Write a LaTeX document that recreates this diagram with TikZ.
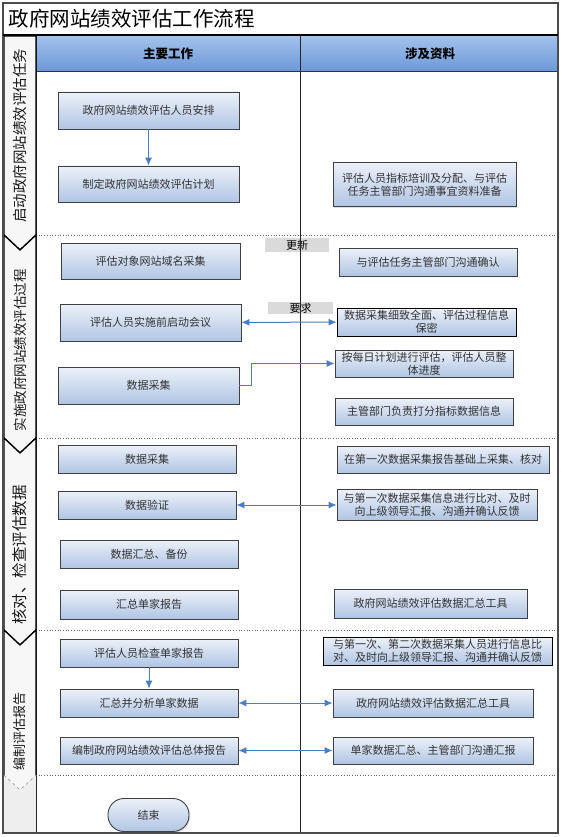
\documentclass[tikz,border=0pt]{standalone}
\usepackage{fontspec}
\newfontfamily\cjk{Noto Sans CJK SC}
\usetikzlibrary{arrows,arrows.meta,shapes,shadows}
\tikzset{>={Latex[length=8pt,width=7pt]}}
\definecolor{boxtop}{RGB}{236,241,249}
\definecolor{boxbot}{RGB}{176,197,228}
\definecolor{headtop}{RGB}{163,194,236}
\definecolor{headbot}{RGB}{108,152,215}
\definecolor{flowblue}{RGB}{74,126,195}
\definecolor{lane}{RGB}{238,238,238}
\definecolor{tagfill}{RGB}{218,218,218}
\tikzset{
	work/.style={draw=black!75, line width=0.9pt, top color=boxtop, bottom color=boxbot, text=black!80,
		font=\cjk\fontsize{11}{13}\selectfont, align=center, inner sep=1pt,
		drop shadow={opacity=0.25, shadow xshift=1.2pt, shadow yshift=-1.2pt}},
	tag/.style={fill=tagfill, font=\cjk\fontsize{11}{11}\selectfont, inner sep=0pt},
	phase/.style={rotate=90, text=black!90},
	flow/.style={draw=flowblue, line width=1pt},
}

\begin{document}
\begin{tikzpicture}[x=1pt, y=-1pt]
	\useasboundingbox (0,0) rectangle (562,837);

	% Frame and lanes
	\fill[white] (3,3) rectangle (558,833);
	\fill[lane] (3,36) rectangle (36,833);
	\shade[top color=headtop, bottom color=headbot] (36,36) rectangle (558,71);
	\draw[black!80, line width=0.8pt] (36,71) -- (558,71);
	\draw[black!85, line width=0.9pt] (36,36) -- (36,833);
	\foreach \y in {235,438,630,775}
		\draw[black!60, dotted, line width=0.7pt] (36,\y) -- (558,\y);

	% Phase chevrons
	\filldraw[fill=black!3, draw=black, line width=1.3pt, line join=miter]
		(4,36) -- (36,36) -- (36,235) -- (20,250) -- (4,235) -- cycle;
	\filldraw[fill=black!3, draw=black, line width=1.3pt, line join=miter]
		(4,235) -- (20,250) -- (36,235) -- (36,438) -- (20,453) -- (4,438) -- cycle;
	\filldraw[fill=black!3, draw=black, line width=1.3pt, line join=miter]
		(4,438) -- (20,453) -- (36,438) -- (36,630) -- (20,645) -- (4,630) -- cycle;
	\fill[black!3] (4,630) -- (20,645) -- (36,630) -- (36,775) -- (20,790) -- (4,775) -- cycle;
	\draw[black, line width=1.3pt, line join=miter] (4,775) -- (4,630) -- (20,645) -- (36,630) -- (36,775);
	\draw[black!45, dashed, line width=0.5pt] (4,775) -- (20,790) -- (36,775);

	\node[phase, font=\cjk\fontsize{14.5}{14.5}\selectfont](start) at (20,135.5) {启动政府网站绩效评估任务};
	\node[phase, font=\cjk\fontsize{13.5}{13.5}\selectfont](carry) at (20,350) {实施政府网站绩效评估过程};
	\node[phase, font=\cjk\fontsize{15.5}{15.5}\selectfont](checking) at (20,555) {核对、检查评估数据};
	\node[phase, font=\cjk\fontsize{13}{13}\selectfont](writing) at (20,731) {编制评估报告};

	% Title and headers
	\node[anchor=west, font=\cjk\fontsize{20.5}{20.5}\selectfont](title) at (5,19) {政府网站绩效评估工作流程};
	\node[font=\cjk\bfseries\fontsize{12.5}{12.5}\selectfont](mainhead) at (168,53.5) {主要工作};
	\node[font=\cjk\bfseries\fontsize{12.5}{12.5}\selectfont](datahead) at (430,53.5) {涉及资料};

	% Main work
	\node[work, minimum width=181pt, minimum height=37pt](arrange) at (148.5,110.5) {政府网站绩效评估人员安排};
	\node[work, minimum width=181pt, minimum height=36pt](plan) at (148.5,184) {制定政府网站绩效评估计划};

	\node[work, minimum width=179pt, minimum height=36pt](domains) at (150.5,261) {评估对象网站域名采集};
	\node[work, minimum width=181pt, minimum height=37pt](kickoff) at (150.5,322.5) {评估人员实施前启动会议};
	\node[work, minimum width=181pt, minimum height=37pt](gather) at (148.5,385.5) {数据采集};

	\node[work, minimum width=178pt, minimum height=28pt](recollect) at (147,459) {数据采集};
	\node[work, minimum width=178pt, minimum height=28pt](verify) at (147,505) {数据验证};
	\node[work, minimum width=178pt, minimum height=28pt](backup) at (149,554) {数据汇总、备份};
	\node[work, minimum width=178pt, minimum height=29pt](single) at (149,604.5) {汇总单家报告};

	\node[work, minimum width=178pt, minimum height=28pt](review) at (149,653) {评估人员检查单家报告};
	\node[work, minimum width=178pt, minimum height=28pt](analyse) at (149,703) {汇总并分析单家数据};
	\node[work, minimum width=178pt, minimum height=27pt](compile) at (149,750.5) {编制政府网站绩效评估总体报告};

	\node[work, rounded corners=16pt, minimum width=81pt, minimum height=33pt](finish) at (148.5,815) {结束};

	% Materials
	\node[work, minimum width=183pt, minimum height=44pt](training) at (424.5,184.5) {评估人员指标培训及分配、与评估\\任务主管部门沟通事宜资料准备};

	\node[work, minimum width=178pt, minimum height=28pt](confirm) at (428,262) {与评估任务主管部门沟通确认};
	\node[work, draw=black, minimum width=179pt, minimum height=28pt](secrecy) at (426.5,322) {数据采集细致全面、评估过程信息\\保密};
	\node[work, minimum width=178pt, minimum height=27pt](daily) at (424,363.5) {按每日计划进行评估，评估人员整\\体进度};
	\node[work, minimum width=178pt, minimum height=27pt](scoring) at (424,411.5) {主管部门负责打分指标数据信息};

	\node[work, minimum width=212pt, minimum height=27pt](firstbase) at (443,459.5) {在第一次数据采集报告基础上采集、核对};
	\node[work, minimum width=200pt, minimum height=31pt](compare) at (437,504.5) {与第一次数据采集信息进行比对、及时\\向上级领导汇报、沟通并确认反馈};
	\node[work, minimum width=193pt, minimum height=29pt](tool) at (430.5,603.5) {政府网站绩效评估数据汇总工具};

	\node[work, draw=black, minimum width=229pt, minimum height=28pt](crosscheck) at (437.5,651) {与第一次、第二次数据采集人员进行信息比\\对、及时向上级领导汇报、沟通并确认反馈};
	\node[work, minimum width=200pt, minimum height=28pt](toolagain) at (433,703) {政府网站绩效评估数据汇总工具};
	\node[work, minimum width=200pt, minimum height=27pt](summary) at (433,750.5) {单家数据汇总、主管部门沟通汇报};

	% Tags
	\node[tag, minimum width=64pt, minimum height=14pt](update) at (297,245) {更新};
	\node[tag, minimum width=65pt, minimum height=12pt](require) at (300.5,308) {要求};

	% Lane divider
	\draw[black!85, line width=0.9pt] (300,36) -- (300,833);

	% Arrows
	\draw[flow, ->] (arrange) to (plan);
	\draw[flow, <->] (kickoff) to (secrecy);
	\draw[flow, ->] (gather.east) -- ++(12,0) |- (daily.west);
	\draw[flow, <->] (verify.east) to (compare.west |- verify.east);
	\draw[flow, ->] (review) to (analyse);
	\draw[flow, <->] (analyse) to (toolagain);
	\draw[flow, <->] (compile) to (summary);

	% Outer frame
	\draw[black!70, line width=1.5pt] (3,3) rectangle (558,833);
	\draw[black, line width=2pt] (3,35) -- (558,35);
\end{tikzpicture}
\end{document}
